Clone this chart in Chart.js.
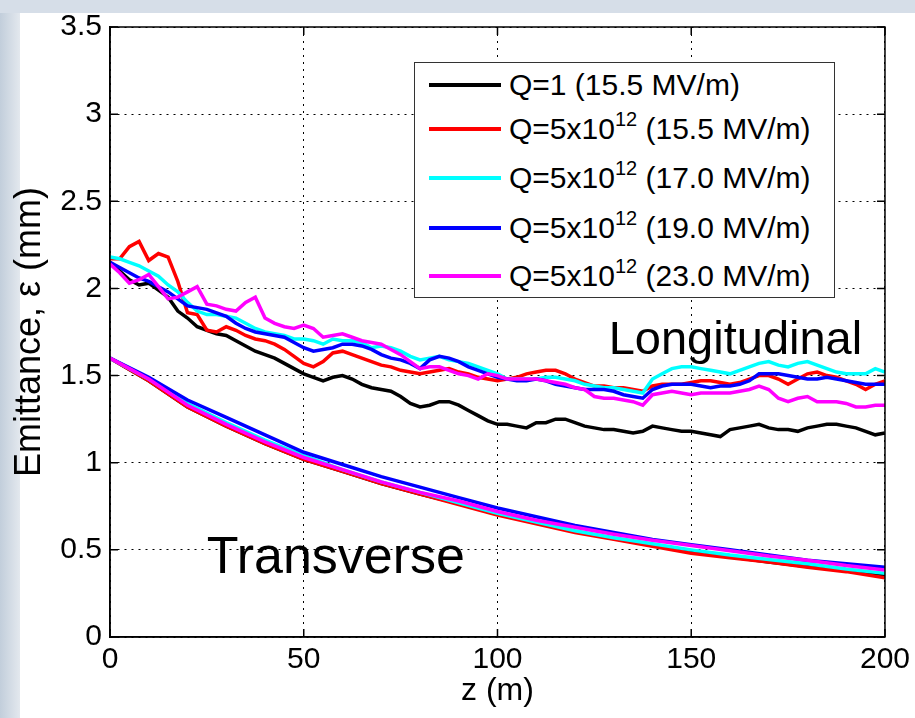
<!DOCTYPE html>
<html>
<head>
<meta charset="utf-8">
<script src="https://cdn.jsdelivr.net/npm/chart.js@4.4.1/dist/chart.umd.min.js"></script>
<style>
  html, body { margin: 0; padding: 0; }
  body {
    width: 915px; height: 718px; overflow: hidden; position: relative;
    background: linear-gradient(to right, #c2cedb 0px, #e3e8ee 20px, #e3e8ee 100%);
    font-family: "Liberation Sans", Arial, sans-serif;
  }
  #topband { position: absolute; left: 0; top: 0; width: 915px; height: 13px; background: #d6dee8; }
  #panel { position: absolute; left: 20px; top: 13px; width: 895px; height: 705px; background: #fff; }
  #c { position: absolute; left: 0; top: 0; }
  #legend {
    position: absolute; left: 414px; top: 62px; width: 419px; height: 234px;
    border: 1.5px solid #333; background: #fff; z-index: 2;
  }
  .row { position: absolute; left: 0; height: 30px; display: flex; align-items: center; }
  .swatch { width: 72px; height: 4px; margin-left: 14px; margin-right: 8px; }
  .lbl { font-size: 30px; line-height: 30px; color: #000; white-space: nowrap; }
  .lbl sup { font-size: 20px; line-height: 0; position: relative; top: -2px; }
</style>
</head>
<body>
<div id="topband"></div>
<div id="panel"></div>
<canvas id="c" width="915" height="718"></canvas>
<div id="legend"></div>
<script>
// z positions (m)
const zLong = [0, 2.5, 5, 7.5, 10, 12.5, 15, 17.5, 20, 22.5,
  25, 27.5, 30, 32.5, 35, 37.5, 40, 42.5, 45, 47.5,
  50, 52.5, 55, 57.5, 60, 62.5, 65, 67.5, 70, 72.5,
  75, 77.5, 80, 82.5, 85, 87.5, 90, 92.5, 95, 97.5,
  100, 102.5, 105, 107.5, 110, 112.5, 115, 117.5, 120, 122.5,
  125, 127.5, 130, 132.5, 135, 137.5, 140, 142.5, 145, 147.5,
  150, 152.5, 155, 157.5, 160, 162.5, 165, 167.5, 170, 172.5,
  175, 177.5, 180, 182.5, 185, 187.5, 190, 192.5, 195, 197.5,
  200];
const zTrans = [0, 10, 20, 30, 40, 50, 60, 70, 80, 90, 100,
  110, 120, 130, 140, 150, 160, 170, 180, 190, 200];

// longitudinal emittance (mm)
const longQ1 = [2.15, 2.10, 2.05, 2.02, 2.03, 1.99, 1.95, 1.87, 1.83, 1.78,
  1.76, 1.74, 1.73, 1.70, 1.67, 1.64, 1.62, 1.60, 1.57, 1.54,
  1.51, 1.49, 1.47, 1.49, 1.50, 1.48, 1.45, 1.43, 1.42, 1.41,
  1.38, 1.34, 1.32, 1.33, 1.35, 1.35, 1.33, 1.30, 1.27, 1.24,
  1.22, 1.22, 1.21, 1.20, 1.23, 1.23, 1.25, 1.25, 1.23, 1.21,
  1.20, 1.19, 1.19, 1.18, 1.17, 1.18, 1.21, 1.20, 1.19, 1.18,
  1.18, 1.17, 1.16, 1.15, 1.19, 1.20, 1.21, 1.22, 1.20, 1.19,
  1.19, 1.18, 1.20, 1.21, 1.22, 1.22, 1.21, 1.20, 1.18, 1.16,
  1.17];
const long155 = [2.17, 2.17, 2.24, 2.27, 2.16, 2.20, 2.18, 2.04, 1.86, 1.85,
  1.76, 1.75, 1.78, 1.76, 1.73, 1.71, 1.70, 1.68, 1.65, 1.61,
  1.57, 1.55, 1.58, 1.63, 1.64, 1.62, 1.60, 1.58, 1.56, 1.55,
  1.53, 1.52, 1.51, 1.52, 1.53, 1.54, 1.52, 1.51, 1.49, 1.48,
  1.47, 1.48, 1.49, 1.51, 1.52, 1.53, 1.53, 1.51, 1.48, 1.46,
  1.44, 1.44, 1.43, 1.43, 1.42, 1.41, 1.44, 1.45, 1.45, 1.45,
  1.46, 1.47, 1.47, 1.46, 1.45, 1.46, 1.48, 1.50, 1.50, 1.48,
  1.45, 1.48, 1.51, 1.52, 1.50, 1.49, 1.47, 1.45, 1.42, 1.45,
  1.47];
const long170 = [2.18, 2.17, 2.15, 2.13, 2.10, 2.07, 2.02, 1.98, 1.92, 1.87,
  1.85, 1.85, 1.84, 1.83, 1.80, 1.77, 1.75, 1.74, 1.73, 1.71,
  1.71, 1.70, 1.68, 1.71, 1.70, 1.70, 1.69, 1.66, 1.67, 1.66,
  1.64, 1.61, 1.59, 1.60, 1.61, 1.59, 1.58, 1.57, 1.55, 1.53,
  1.51, 1.48, 1.48, 1.48, 1.48, 1.49, 1.49, 1.48, 1.47, 1.45,
  1.44, 1.43, 1.43, 1.42, 1.41, 1.40, 1.48, 1.51, 1.54, 1.55,
  1.55, 1.54, 1.53, 1.52, 1.51, 1.53, 1.55, 1.57, 1.58, 1.56,
  1.55, 1.57, 1.58, 1.56, 1.54, 1.52, 1.51, 1.51, 1.51, 1.54,
  1.52];
const long190 = [2.15, 2.12, 2.09, 2.06, 2.04, 2.01, 1.98, 1.94, 1.90, 1.89,
  1.88, 1.86, 1.84, 1.80, 1.77, 1.75, 1.74, 1.73, 1.72, 1.69,
  1.66, 1.64, 1.65, 1.66, 1.68, 1.68, 1.67, 1.65, 1.62, 1.60,
  1.59, 1.57, 1.54, 1.59, 1.61, 1.60, 1.58, 1.55, 1.53, 1.51,
  1.49, 1.48, 1.47, 1.47, 1.48, 1.47, 1.45, 1.44, 1.43, 1.42,
  1.42, 1.42, 1.41, 1.39, 1.38, 1.37, 1.42, 1.44, 1.45, 1.45,
  1.45, 1.44, 1.43, 1.44, 1.44, 1.45, 1.47, 1.51, 1.51, 1.51,
  1.50, 1.49, 1.48, 1.48, 1.49, 1.48, 1.47, 1.46, 1.45, 1.45,
  1.45];
const long230 = [2.14, 2.09, 2.03, 2.05, 2.08, 2.01, 1.94, 1.95, 1.98, 2.01,
  1.91, 1.90, 1.88, 1.87, 1.92, 1.95, 1.83, 1.80, 1.78, 1.77,
  1.79, 1.77, 1.72, 1.73, 1.74, 1.72, 1.70, 1.69, 1.68, 1.65,
  1.62, 1.58, 1.54, 1.55, 1.55, 1.53, 1.51, 1.50, 1.48, 1.51,
  1.50, 1.48, 1.48, 1.48, 1.48, 1.47, 1.46, 1.45, 1.43, 1.42,
  1.38, 1.37, 1.37, 1.36, 1.35, 1.33, 1.39, 1.40, 1.41, 1.40,
  1.39, 1.40, 1.40, 1.40, 1.40, 1.41, 1.42, 1.44, 1.42, 1.37,
  1.35, 1.37, 1.38, 1.35, 1.35, 1.35, 1.34, 1.32, 1.32, 1.33,
  1.33];

// transverse emittance (mm)
const transQ1 = [1.60, 1.47, 1.32, 1.21, 1.11, 1.02, 0.95, 0.88, 0.82, 0.765, 0.705,
  0.655, 0.605, 0.565, 0.525, 0.49, 0.46, 0.43, 0.405, 0.38, 0.35];
const trans155 = [1.60, 1.47, 1.32, 1.21, 1.11, 1.02, 0.95, 0.88, 0.82, 0.76, 0.70,
  0.65, 0.60, 0.56, 0.52, 0.48, 0.455, 0.43, 0.40, 0.375, 0.34];
const trans170 = [1.60, 1.48, 1.34, 1.23, 1.13, 1.04, 0.96, 0.89, 0.83, 0.77, 0.71,
  0.66, 0.61, 0.57, 0.535, 0.50, 0.47, 0.445, 0.42, 0.39, 0.365];
const trans190 = [1.60, 1.49, 1.36, 1.26, 1.16, 1.06, 0.99, 0.92, 0.86, 0.80, 0.74,
  0.69, 0.64, 0.60, 0.56, 0.53, 0.50, 0.47, 0.44, 0.42, 0.40];
const trans230 = [1.60, 1.48, 1.33, 1.22, 1.12, 1.03, 0.96, 0.89, 0.83, 0.78, 0.72,
  0.67, 0.63, 0.59, 0.555, 0.525, 0.495, 0.465, 0.44, 0.41, 0.385];

const seriesNames = ["Q=1 (15.5 MV/m)", "Q=5x10^12 (15.5 MV/m)", "Q=5x10^12 (17.0 MV/m)",
  "Q=5x10^12 (19.0 MV/m)", "Q=5x10^12 (23.0 MV/m)"];
const seriesColors = ["#000000", "#ff0000", "#00ffff", "#0000ff", "#ff00ff"];
const longSeries = [longQ1, long155, long170, long190, long230];
const transSeries = [transQ1, trans155, trans170, trans190, trans230];

const yTicks = [0, 0.5, 1, 1.5, 2, 2.5, 3, 3.5];
const xTicks = [0, 50, 100, 150, 200];

Chart.defaults.font.family = '"Liberation Sans", Arial, sans-serif';
Chart.defaults.color = "#000";

function toPoints(zs, vals) {
  return vals.map((v, i) => ({ x: zs[i], y: v }));
}

let datasets = [];
for (let i = 0; i < seriesNames.length; i++) {
  // later series drawn on top, like the original plot order
  datasets.push({
    label: seriesNames[i] + " long",
    data: toPoints(zLong, longSeries[i]),
    borderColor: seriesColors[i],
    borderWidth: 3.5,
    pointRadius: 0,
    tension: 0,
    fill: false,
    order: 10 - i,
  });
  datasets.push({
    label: seriesNames[i] + " trans",
    data: toPoints(zTrans, transSeries[i]),
    borderColor: seriesColors[i],
    borderWidth: 3.5,
    pointRadius: 0,
    tension: 0,
    fill: false,
    order: 10 - i,
  });
}

// box, inward ticks and the two text labels
const framePlugin = {
  id: "frame",
  afterDatasetsDraw(chart) {
    const ctx = chart.ctx;
    const a = chart.chartArea;
    const xs = chart.scales.x, ys = chart.scales.y;
    ctx.save();
    ctx.strokeStyle = "#000";
    ctx.lineWidth = 1.5;
    ctx.strokeRect(a.left, a.top, a.right - a.left, a.bottom - a.top);
    ctx.beginPath();
    xTicks.forEach((t) => {
      const px = xs.getPixelForValue(t);
      ctx.moveTo(px, a.bottom); ctx.lineTo(px, a.bottom - 8);
      ctx.moveTo(px, a.top); ctx.lineTo(px, a.top + 8);
    });
    yTicks.forEach((t) => {
      const py = ys.getPixelForValue(t);
      ctx.moveTo(a.left, py); ctx.lineTo(a.left + 8, py);
      ctx.moveTo(a.right, py); ctx.lineTo(a.right - 8, py);
    });
    ctx.stroke();

    ctx.fillStyle = "#000";
    ctx.textBaseline = "alphabetic";
    ctx.textAlign = "left";
    ctx.font = '47px "Liberation Sans", Arial, sans-serif';
    ctx.fillText("Longitudinal", xs.getPixelForValue(128.7), ys.getPixelForValue(1.625));
    ctx.font = '52px "Liberation Sans", Arial, sans-serif';
    ctx.fillText("Transverse", xs.getPixelForValue(25), ys.getPixelForValue(0.365));
    ctx.restore();
  },
};

new Chart(document.getElementById("c"), {
  type: "line",
  data: { datasets: datasets },
  options: {
    responsive: false,
    animation: false,
    devicePixelRatio: 1,
    layout: { padding: { left: 0, top: 27, right: 28, bottom: 0 } },
    plugins: { legend: { display: false }, tooltip: { enabled: false } },
    scales: {
      x: {
        type: "linear",
        min: 0,
        max: 200,
        afterBuildTicks: (s) => { s.ticks = xTicks.map((v) => ({ value: v })); },
        afterFit: (s) => { s.height = 81; },
        ticks: { font: { size: 30 }, padding: 5, maxRotation: 0, color: "#000",
          callback: (v) => String(v) },
        grid: { color: "#000", lineWidth: 1, drawTicks: false },
        border: { display: true, color: "#000", width: 1.5, dash: [2, 5] },
        title: { display: true, text: "z (m)", font: { size: 32 }, color: "#000",
          padding: { top: 0, bottom: 8 } },
      },
      y: {
        type: "linear",
        min: 0,
        max: 3.5,
        afterBuildTicks: (s) => { s.ticks = yTicks.map((v) => ({ value: v })); },
        afterFit: (s) => { s.width = 110; },
        ticks: { font: { size: 30 }, padding: 8, color: "#000",
          callback: (v) => String(v) },
        grid: { color: "#000", lineWidth: 1, drawTicks: false },
        border: { display: true, color: "#000", width: 1.5, dash: [2, 5] },
        title: { display: true, text: "Emittance, \u03b5 (mm)", font: { size: 36 }, color: "#000",
          padding: { top: 8, bottom: 0 } },
      },
    },
  },
  plugins: [framePlugin],
});

// legend with superscripts (html text)
const legendRowsY = [22, 66, 115, 165, 213];
const legend = document.getElementById("legend");
seriesNames.forEach((name, i) => {
  const row = document.createElement("div");
  row.className = "row";
  row.style.top = (legendRowsY[i] - 15) + "px";
  const sw = document.createElement("div");
  sw.className = "swatch";
  sw.style.background = seriesColors[i];
  const lbl = document.createElement("div");
  lbl.className = "lbl";
  lbl.innerHTML = name.replace(/\^(\d+)/, "<sup>$1</sup>");
  row.appendChild(sw);
  row.appendChild(lbl);
  legend.appendChild(row);
});
</script>
</body>
</html>
